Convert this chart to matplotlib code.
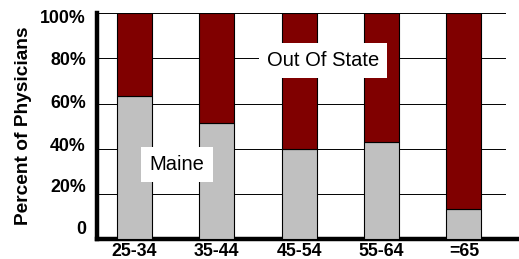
import numpy as np
import matplotlib
matplotlib.use("Agg")
import matplotlib.pyplot as plt

plt.rcParams['font.family'] = ['Liberation Sans', 'DejaVu Sans']

age_groups = ["25-34", "35-44", "45-54", "55-64", "=65"]
maine = [63.5, 51.5, 40, 43, 13.5]
out_of_state = [100 - v for v in maine]

grid_vals = [20, 40, 60, 80, 100]
ytick_pos = [5, 23.5, 42, 61, 80, 98.5]
ytick_lab = ["0", "20%", "40%", "60%", "80%", "100%"]

W, H = 519, 259
fig = plt.figure(figsize=(W / 100, H / 100), dpi=100)
ax = fig.add_axes([97 / W, 1 - 239 / H, 1 - 97 / W, (239 - 13.3) / H])

xpos = np.arange(len(age_groups))
bw = 0.425
ax.bar(xpos, maine, width=bw, color='#c0c0c0', edgecolor='black', linewidth=0.8, zorder=3)
ax.bar(xpos, out_of_state, bottom=maine, width=bw, color='#800000',
       edgecolor='black', linewidth=0.8, zorder=3)

gx = (505 - 97) / (W - 97)
for g in grid_vals:
    ax.axhline(g, xmin=0, xmax=gx, color='black', linewidth=0.7, zorder=1)

ax.set_xlim(-0.455, 4.67)
ax.set_ylim(0, 100)

ax.set_yticks(ytick_pos)
ax.set_yticklabels(ytick_lab, fontsize=12.8, fontweight='bold')
ax.set_xticks(xpos)
ax.set_xticklabels(age_groups, fontsize=12.8, fontweight='bold')
ax.tick_params(axis='both', length=0)
ax.tick_params(axis='y', pad=8)
ax.tick_params(axis='x', pad=3)

ax.spines['top'].set_visible(False)
ax.spines['right'].set_visible(False)
ax.spines['left'].set_linewidth(3.2)
ax.spines['bottom'].set_linewidth(3.2)

ax.set_ylabel('Percent of Physicians', fontsize=13.8, fontweight='bold', labelpad=6)

box = dict(facecolor='white', edgecolor='none', pad=6)
ax.text(0.516, 33, 'Maine', fontsize=14.5, ha='center', va='center', bbox=box, zorder=4)
ax.text(2.29, 79, 'Out Of State', fontsize=14.5, ha='center', va='center', bbox=box, zorder=4)

fig.savefig('out.png', dpi=100)
